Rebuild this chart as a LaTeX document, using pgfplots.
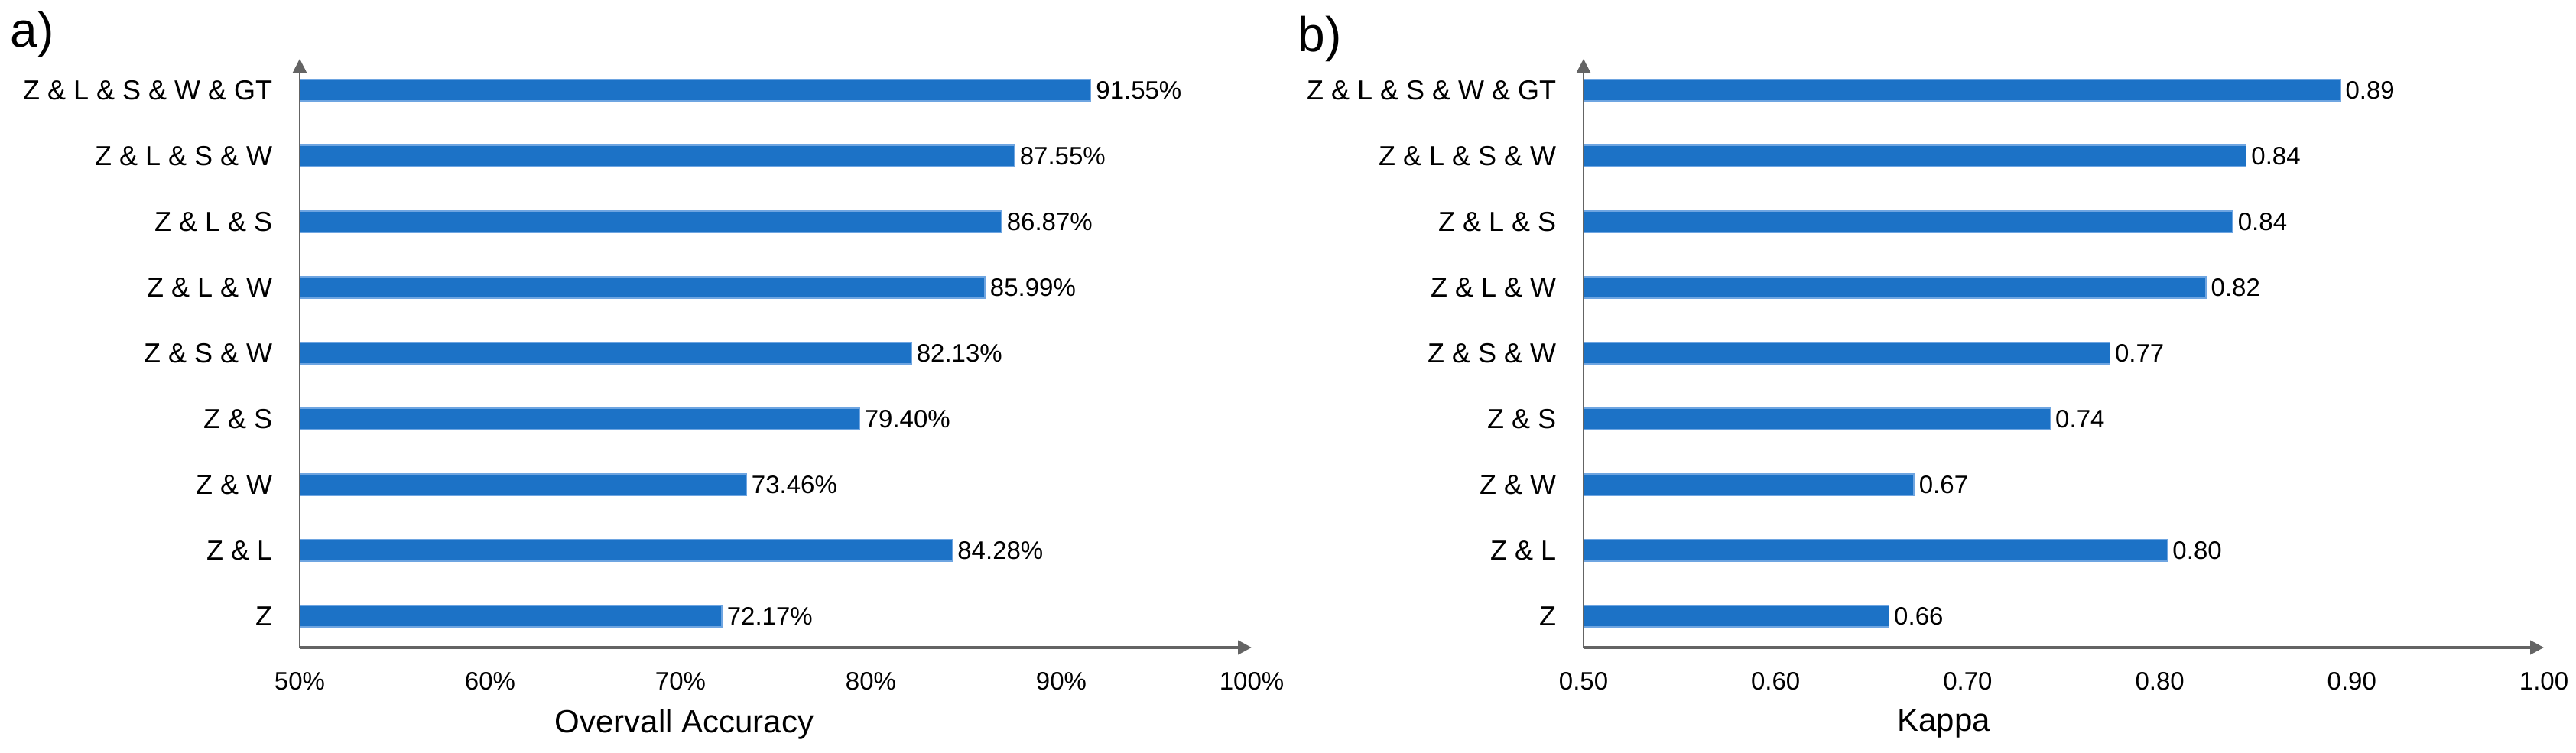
\documentclass[border=0pt]{standalone}
\usepackage{fontspec}
\setmainfont{Liberation Sans}
\usepackage{pgfplots}
\usepackage{pgfplotstable}
\pgfplotsset{compat=1.18}
\usetikzlibrary{arrows.meta}

\definecolor{barblue}{RGB}{28,114,198}
\definecolor{baredge}{RGB}{110,165,225}
\definecolor{axgray}{RGB}{100,100,100}

% y = row from the bottom, oa = overall accuracy (%), kappa bar length, klab = printed kappa
\pgfplotstableread{
y oa    kappa klab
0 72.17 0.659 0.66
1 84.28 0.804 0.80
2 73.46 0.672 0.67
3 79.40 0.743 0.74
4 82.13 0.774 0.77
5 85.99 0.824 0.82
6 86.87 0.838 0.84
7 87.55 0.845 0.84
8 91.55 0.894 0.89
}\datatable

\pgfplotsset{
  panel/.style={
    scale only axis,
    height=192.5pt,
    anchor=south west,
    xbar, bar width=7pt,
    axis lines=left,
    axis line style={draw=axgray},
    x axis line style={line width=1pt, -{Triangle[length=4.5pt,width=4.5pt]}},
    y axis line style={line width=0.5pt, -{Triangle[length=4.5pt,width=4.5pt]}},
    ymin=-0.477, ymax=8.477,
    ytick={0,...,8},
    yticklabels={Z, Z \& L, Z \& W, Z \& S, Z \& S \& W, Z \& L \& W,
                 Z \& L \& S, Z \& L \& S \& W, Z \& L \& S \& W \& GT},
    major tick length=0pt,
    tick style={draw=none},
    yticklabel style={font=\fontsize{9}{10}\selectfont, inner sep=0pt, xshift=-8.75pt},
    xticklabel style={font=\fontsize{8.25}{9}\selectfont, inner sep=0pt, yshift=-8pt},
    xlabel style={font=\fontsize{10.5}{12}\selectfont, anchor=north, inner sep=0pt, yshift=-20pt},
    point meta=explicit symbolic,
    nodes near coords,
    nodes near coords align=horizontal,
    every node near coord/.append style={font=\fontsize{8.25}{9}\selectfont,
      anchor=west, inner sep=1.5pt, text=black},
  }
}

\begin{document}
\begin{tikzpicture}
\path[use as bounding box] (0,0) rectangle (842.25pt,246pt);

\begin{axis}[panel,
    at={(98pt,34.25pt)}, width=311.25pt,
    xmin=50, xmax=100,
    xtick={50,60,70,80,90,100},
    xticklabels={50\%,60\%,70\%,80\%,90\%,100\%},
    xlabel={Overvall Accuracy},
    xlabel style={at={(rel axis cs:0.404,0)}},
    nodes near coords={\pgfplotspointmeta\%},
  ]
  \addplot[fill=barblue, draw=baredge, line width=0.4pt]
    table[x=oa, y=y, meta=oa] {\datatable};
\end{axis}

\begin{axis}[panel,
    at={(517.75pt,34.25pt)}, width=314pt,
    xmin=0.5, xmax=1.0,
    xtick={0.5,0.6,0.7,0.8,0.9,1.0},
    xticklabels={0.50,0.60,0.70,0.80,0.90,1.00},
    xlabel={Kappa},
    xlabel style={at={(rel axis cs:0.375,0)}},
    nodes near coords={\pgfplotspointmeta},
  ]
  \addplot[fill=barblue, draw=baredge, line width=0.4pt]
    table[x=kappa, y=y, meta=klab] {\datatable};
\end{axis}

\node[anchor=base west, inner sep=0pt, font=\fontsize{16}{18}\selectfont] at (3.25pt,230.5pt) {a)};
\node[anchor=base west, inner sep=0pt, font=\fontsize{16}{18}\selectfont] at (424.25pt,229pt) {b)};
\end{tikzpicture}
\end{document}
